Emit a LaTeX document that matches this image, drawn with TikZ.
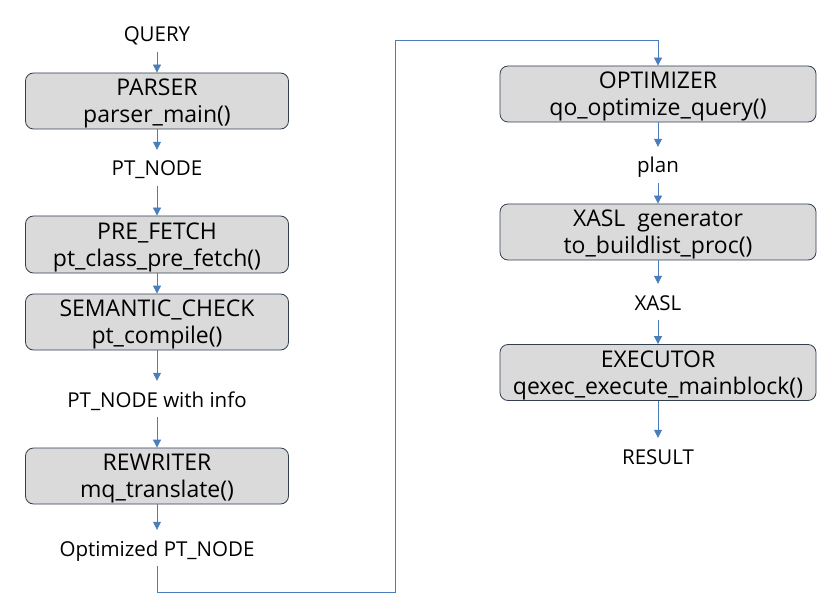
\documentclass[tikz,border=0pt]{standalone}
\usepackage{fontspec}
\setmainfont{Open Sans}
\usetikzlibrary{arrows.meta}
\definecolor{boxfill}{HTML}{DADADA}
\definecolor{boxline}{HTML}{323F50}
\definecolor{flow}{HTML}{4A7EBB}
\begin{document}
\begin{tikzpicture}[x=1pt,y=-1pt,->,>={Triangle[width=8pt,length=8pt]}]
		\tikzstyle{stage} = [rectangle,rounded corners=8pt,draw=boxline,fill=boxfill,line width=0.8pt,minimum height=56pt,inner sep=0pt,align=center,text depth=0pt,font=\fontsize{23}{27}\selectfont]
		\tikzstyle{data}  = [inner sep=0pt,minimum height=36pt,text height=19pt,text depth=3pt,font=\fontsize{20.5}{24}\selectfont]
		\tikzstyle{link}  = [color=flow,line width=0.8pt]
		\useasboundingbox (0,0) rectangle (832,612);
		
		\node[data] (query) at (157,34) {QUERY};
		\node[stage,minimum width=263pt] (parser) at (157,101) {PARSER\\parser\_main()};
		\node[data] (ptnode) at (157,168) {PT\_NODE};
		\node[stage,minimum width=263pt,minimum height=57pt] (prefetch) at (157,244.5) {PRE\_FETCH\\pt\_class\_pre\_fetch()};
		\node[stage,minimum width=263pt] (semantic) at (157,322) {SEMANTIC\_CHECK\\pt\_compile()};
		\node[data] (ptinfo) at (157,399) {PT\_NODE with info};
		\node[stage,minimum width=263pt] (rewriter) at (157,476) {REWRITER\\mq\_translate()};
		\node[data] (optnode) at (157,548) {Optimized PT\_NODE};
		
		\node[stage,minimum width=316pt] (optimizer) at (658,94) {OPTIMIZER\\qo\_optimize\_query()};
		\node[data] (plan) at (658,165) {plan};
		\node[stage,minimum width=316pt] (xaslgen) at (658,232) {XASL~~generator\\to\_buildlist\_proc()};
		\node[data] (xasl) at (658,302) {XASL};
		\node[stage,minimum width=316pt] (executor) at (658,372.5) {EXECUTOR\\qexec\_execute\_mainblock()};
		\node[data] (result) at (658,456) {RESULT};
		
		\coordinate (low) at (157,592);
		\coordinate (high) at (395,40);
		
		\path[link] (query) edge (parser);
		\path[link] (parser) edge (ptnode);
		\path[link] (ptnode) edge (prefetch);
		\path[link] (prefetch) edge (semantic);
		\path[link] (semantic) edge (ptinfo);
		\path[link] (ptinfo) edge (rewriter);
		\path[link] (rewriter) edge (optnode);
		
		\draw[link] (optnode.south) -- (low) -| (high) -| (optimizer.north);
		
		\path[link] (optimizer) edge (plan);
		\path[link] (plan) edge (xaslgen);
		\path[link] (xaslgen) edge (xasl);
		\path[link] (xasl) edge (executor);
		\path[link] (executor) edge (result);
	\end{tikzpicture}
\end{document}
